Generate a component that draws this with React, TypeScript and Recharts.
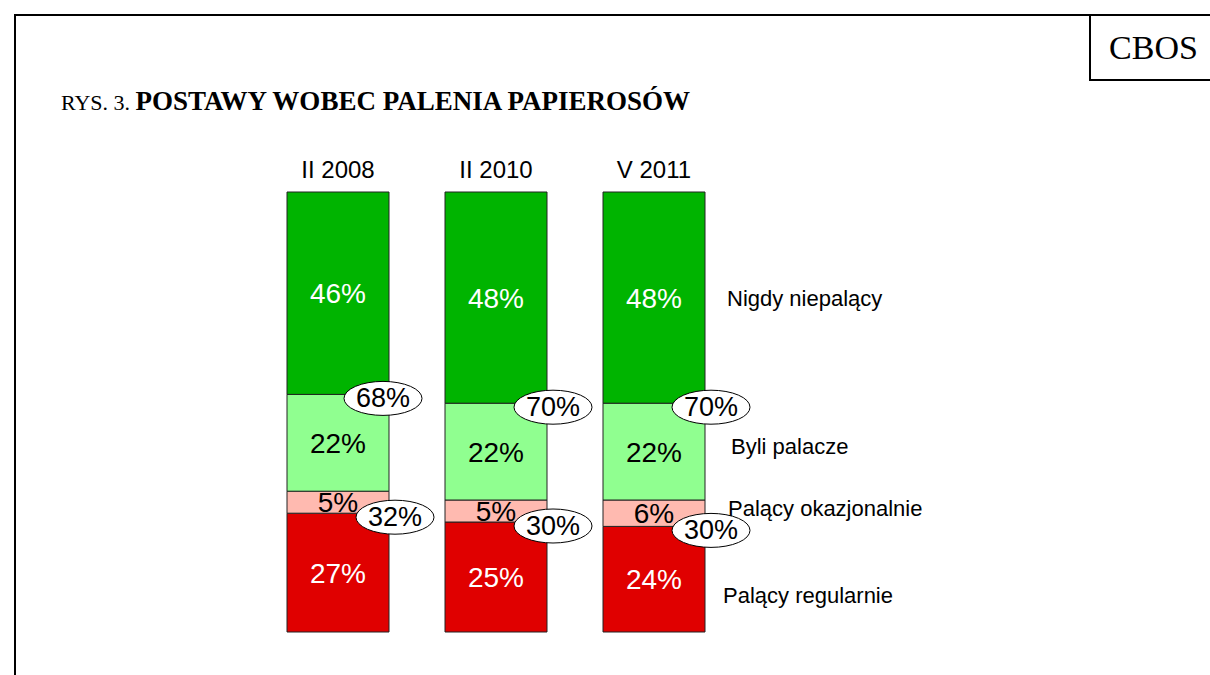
import React from 'react';
import { BarChart, Bar, XAxis, YAxis, LabelList } from 'recharts';

const categories = ['II 2008', 'II 2010', 'V 2011'];
const nigdyNiepalacy = [46, 48, 48];
const byliPalacze = [22, 22, 22];
const palacyOkazjonalnie = [5, 5, 6];
const palacyRegularnie = [27, 25, 24];
const niepalacyRazem = [68, 70, 70];
const palacyRazem = [32, 30, 30];
const seriesNames = ['Palący regularnie', 'Palący okazjonalnie', 'Byli palacze', 'Nigdy niepalący'];

const data = categories.map((name, i) => ({
  name,
  regularnie: palacyRegularnie[i],
  okazjonalnie: palacyOkazjonalnie[i],
  byli: byliPalacze[i],
  nigdy: nigdyNiepalacy[i],
  niepalacyRazem: niepalacyRazem[i],
  palacyRazem: palacyRazem[i],
}));

const ARIAL = 'Arial, "Liberation Sans", sans-serif';
const TIMES = '"Times New Roman", "Liberation Serif", serif';

const series = [
  { key: 'regularnie', color: '#e00000', text: '#ffffff', legendDx: 18, legendDy: 16 },
  { key: 'okazjonalnie', color: '#ffbab0', text: '#000000', legendDx: 23, legendDy: -5 },
  { key: 'byli', color: '#90ff90', text: '#000000', legendDx: 26, legendDy: -5 },
  { key: 'nigdy', color: '#00b400', text: '#ffffff', legendDx: 22, legendDy: 1 },
];

// the first ellipse sits a bit more to the left in the original
const ellipseDx = [-6, 6, 6];

const Ellipse = (props: any) => {
  const { x, y, width, value, index } = props;
  const cx = x + width + (ellipseDx[index] ?? 6);
  const cy = y + 4;
  return (
    <g>
      <ellipse cx={cx} cy={cy} rx={39} ry={17} fill="#ffffff" stroke="#000000" strokeWidth={1} />
      <text x={cx} y={cy} textAnchor="middle" dominantBaseline="central" fontFamily={ARIAL} fontSize={27} fill="#000">
        {value}%
      </text>
    </g>
  );
};

const EllipseSmokers = (props: any) => <Ellipse {...props} index={1} />;

const makeLegend = (name: string, dx: number, dy: number) => (props: any) => {
  const { x, y, width, height, index } = props;
  if (index !== categories.length - 1) return null;
  return (
    <text x={x + width + dx} y={y + height / 2 + dy} dominantBaseline="central" fontFamily={ARIAL} fontSize={22} fill="#000">
      {name}
    </text>
  );
};

const line = (style: React.CSSProperties) => (
  <div style={{ position: 'absolute', background: '#000', ...style }} />
);

export default function App() {
  return (
    <div style={{ position: 'absolute', left: 0, top: 0, width: 1210, height: 675, background: '#fff' }}>
      {line({ left: 14, top: 14, width: 1196, height: 2 })}
      {line({ left: 14, top: 14, width: 2, height: 661 })}
      {line({ left: 1089, top: 14, width: 2, height: 67 })}
      {line({ left: 1089, top: 79, width: 121, height: 2 })}
      <div style={{ position: 'absolute', left: 1097, top: 16, width: 113, height: 63, display: 'flex', alignItems: 'center', justifyContent: 'center', fontFamily: TIMES, fontSize: 34 }}>
        CBOS
      </div>
      <div style={{ position: 'absolute', left: 61, top: 85, fontFamily: TIMES, whiteSpace: 'nowrap', lineHeight: '32px' }}>
        <span style={{ fontSize: 22 }}>RYS. 3. </span>
        <span style={{ fontSize: 27, fontWeight: 'bold' }}>POSTAWY WOBEC PALENIA PAPIEROSÓW</span>
      </div>
      <div style={{ position: 'absolute', left: 0, top: 0 }}>
        <BarChart width={1210} height={675} data={data} margin={{ top: 192, right: 477, bottom: 43, left: 259 }} barSize={102}>
          <XAxis dataKey="name" hide />
          <YAxis hide domain={[0, 100]} />
          {series.map((s, si) => (
            <Bar key={s.key} dataKey={s.key} stackId="a" fill={s.color} stroke="#222" strokeWidth={1} isAnimationActive={false}>
              <LabelList dataKey={s.key} position="center" formatter={(v: any) => `${v}%`} fill={s.text} fontFamily={ARIAL} fontSize={28} />
              <LabelList dataKey={s.key} content={makeLegend(seriesNames[si], s.legendDx, s.legendDy)} />
              {s.key === 'byli' && <LabelList dataKey="niepalacyRazem" content={Ellipse} />}
              {s.key === 'regularnie' && <LabelList dataKey="palacyRazem" content={EllipseSmokers} />}
              {s.key === 'nigdy' && (
                <LabelList dataKey="name" position="top" offset={14} fill="#000" fontFamily={ARIAL} fontSize={24} />
              )}
            </Bar>
          ))}
        </BarChart>
      </div>
    </div>
  );
}
